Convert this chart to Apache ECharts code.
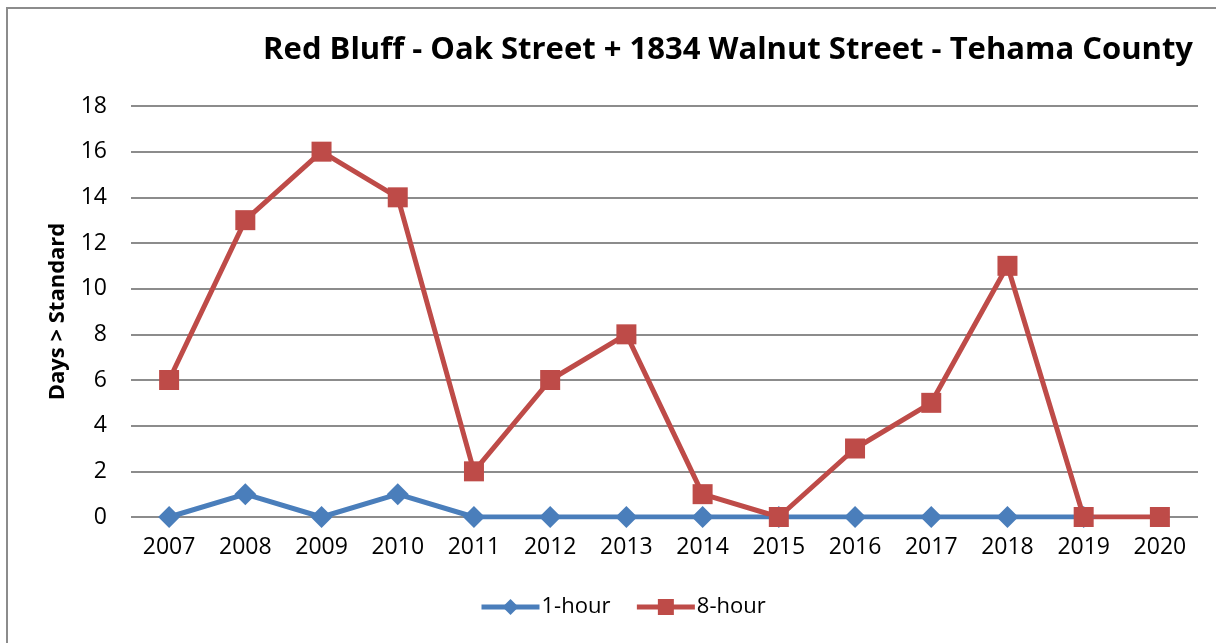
<!DOCTYPE html>
<html>
<head>
<meta charset="utf-8">
<script src="https://cdn.jsdelivr.net/npm/echarts@6/dist/echarts.min.js"></script>
<style>
  html, body { margin: 0; padding: 0; background: #fff; }
  #frame {
    position: absolute; left: 6px; top: 7px; width: 1220px; height: 650px;
    border: 2px solid #8c8c8c; box-sizing: border-box;
  }
  #chart { position: absolute; left: 0; top: 0; width: 1216px; height: 643px; }
</style>
</head>
<body>
<div id="frame"></div>
<div id="chart"></div>
<script>
// data
var years = ['2007', '2008', '2009', '2010', '2011', '2012', '2013', '2014', '2015', '2016', '2017', '2018', '2019', '2020'];
var oneHour = [0, 1, 0, 1, 0, 0, 0, 0, 0, 0, 0, 0, 0, null];
var eightHour = [6, 13, 16, 14, 2, 6, 8, 1, 0, 3, 5, 11, 0, 0];

var font = '"Open Sans", "Liberation Sans", sans-serif';

var myChart = echarts.init(document.getElementById('chart'));
var option = {
  animation: false,
  title: {
    text: 'Red Bluff - Oak Street + 1834 Walnut Street - Tehama County',
    right: 18,
    top: 30,
    textStyle: { fontFamily: font, fontWeight: 'bold', fontSize: 31, color: '#000' }
  },
  legend: {
    bottom: 20,
    left: 474,
    itemWidth: 58,
    itemHeight: 20,
    itemGap: 24,
    lineStyle: { width: 5 },
    textStyle: { fontFamily: font, fontSize: 22, color: '#000', padding: [0, 0, 0, -3] },
    data: ['1-hour', '8-hour']
  },
  grid: { left: 131, right: 18, top: 106, bottom: 126 },
  xAxis: {
    type: 'category',
    data: years,
    boundaryGap: true,
    axisLine: { show: false },
    axisTick: { show: false },
    axisLabel: { fontFamily: font, fontSize: 23, color: '#000', margin: 19 }
  },
  yAxis: {
    type: 'value',
    min: 0,
    max: 18,
    interval: 2,
    name: 'Days > Standard',
    nameLocation: 'middle',
    nameGap: 62,
    nameTextStyle: { fontFamily: font, fontWeight: 'bold', fontSize: 22, color: '#000' },
    axisLine: { show: false },
    axisTick: { show: false },
    axisLabel: { fontFamily: font, fontSize: 23, color: '#000', margin: 24 },
    splitLine: { lineStyle: { color: '#8c8c8c', width: 2 } }
  },
  series: [
    {
      name: '1-hour',
      type: 'line',
      data: oneHour,
      symbol: 'diamond',
      symbolSize: 22,
      itemStyle: { color: '#4a7ebb' },
      lineStyle: { color: '#4a7ebb', width: 5 }
    },
    {
      name: '8-hour',
      type: 'line',
      data: eightHour,
      symbol: 'rect',
      symbolSize: 20,
      itemStyle: { color: '#be4b48' },
      lineStyle: { color: '#be4b48', width: 5 }
    }
  ]
};
myChart.setOption(option);
</script>
</body>
</html>
